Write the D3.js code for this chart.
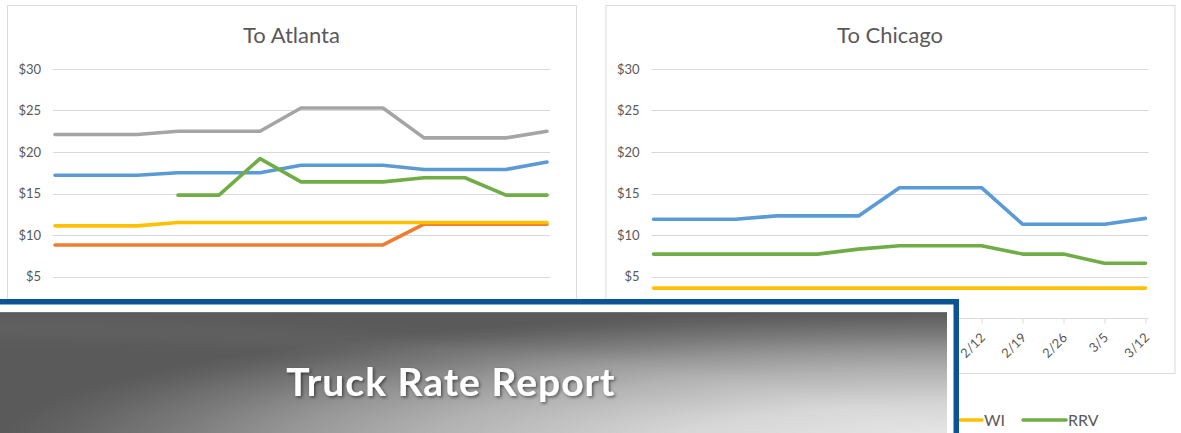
<!DOCTYPE html>
<html>
<head>
<meta charset="utf-8">
<script src="https://cdn.jsdelivr.net/npm/d3@7"></script>
<style>
  html, body { margin: 0; padding: 0; background: #fff; }
  svg { display: block; }
  text { font-family: Lato, "Open Sans", sans-serif; }
</style>
</head>
<body>
<svg id="chart" width="1181" height="433"></svg>
<script>
// ---------- data ----------
const dates = ["12/18","12/25","1/1","1/8","1/15","1/22","1/29","2/5","2/12","2/19","2/26","3/5","3/12"];
const yTicks = [0, 5, 10, 15, 20, 25, 30];
const yTickLabels = ["$0","$5","$10","$15","$20","$25","$30"];

const atlantaBlue   = [17.2,17.2,17.2,17.5,17.5,17.5,18.4,18.4,18.4,17.9,17.9,17.9,18.8];
const atlantaOrange = [8.8,8.8,8.8,8.8,8.8,8.8,8.8,8.8,8.8,11.3,11.3,11.3,11.3];
const atlantaGray   = [22.1,22.1,22.1,22.5,22.5,22.5,25.3,25.3,25.3,21.7,21.7,21.7,22.5];
const atlantaWI     = [11.1,11.1,11.1,11.5,11.5,11.5,11.5,11.5,11.5,11.5,11.5,11.5,11.5];
const atlantaRRV    = [null,null,null,14.8,14.8,19.2,16.4,16.4,16.4,16.9,16.9,14.8,14.8];

const chicagoBlue = [11.9,11.9,11.9,12.3,12.3,12.3,15.7,15.7,15.7,11.3,11.3,11.3,12.0];
const chicagoWI   = [3.6,3.6,3.6,3.6,3.6,3.6,3.6,3.6,3.6,3.6,3.6,3.6,3.6];
const chicagoRRV  = [7.7,7.7,7.7,7.7,7.7,8.3,8.7,8.7,8.7,7.7,7.7,6.6,6.6];

const chartTitles = ["To Atlanta", "To Chicago"];
const legendNames = ["WI", "RRV"];
const bannerTitle = "Truck Rate Report";

// ---------- styles ----------
const COLORS = { blue: "#5B9BD5", orange: "#ED7D31", gray: "#A5A5A5", yellow: "#FFC000", green: "#70AD47" };
const GRID = "#d9d9d9";
const TXT = "#595959";

const svg = d3.select("#chart");
svg.append("rect").attr("width", 1181).attr("height", 433).attr("fill", "#fff");

const panels = [
  { x0: 7, title: chartTitles[0], series: [
      [atlantaBlue, COLORS.blue], [atlantaOrange, COLORS.orange], [atlantaGray, COLORS.gray],
      [atlantaWI, COLORS.yellow], [atlantaRRV, COLORS.green] ] },
  { x0: 605.5, title: chartTitles[1], series: [
      [chicagoBlue, COLORS.blue], [chicagoWI, COLORS.yellow], [chicagoRRV, COLORS.green] ] }
];

const y = d3.scaleLinear().domain([0, 30]).range([318, 69]);

panels.forEach(p => {
  const g = svg.append("g");
  g.append("rect")
    .attr("x", p.x0 + 0.5).attr("y", 5.5).attr("width", 569).attr("height", 368)
    .attr("fill", "#fff").attr("stroke", GRID).attr("stroke-width", 1);

  const cx = p.x0 + 284.5;
  g.append("text").attr("x", cx).attr("y", 43).attr("text-anchor", "middle")
    .attr("font-size", 22).attr("fill", TXT).text(p.title);

  const x = d3.scalePoint().domain(dates).range([p.x0 + 48, p.x0 + 540]);
  const gx0 = p.x0 + 46, gx1 = p.x0 + 543;

  // gridlines
  g.selectAll("line.grid").data(yTicks.filter(t => t > 0)).join("line")
    .attr("x1", gx0).attr("x2", gx1)
    .attr("y1", d => Math.round(y(d)) + 0.5).attr("y2", d => Math.round(y(d)) + 0.5)
    .attr("stroke", GRID).attr("stroke-width", 1);

  // y axis labels
  const yAxis = d3.axisLeft(y).tickValues(yTicks).tickSize(0).tickPadding(0)
    .tickFormat((d, i) => yTickLabels[i]);
  const ya = g.append("g").attr("transform", `translate(${p.x0 + 34},0)`).call(yAxis);
  ya.select(".domain").remove();
  ya.selectAll("text").attr("font-size", 13).attr("fill", TXT)
    .attr("font-family", "Lato, 'Open Sans', sans-serif");

  // x axis
  const xAxis = d3.axisBottom(x).tickSize(5).tickPadding(0);
  const xa = g.append("g").attr("transform", `translate(0,${Math.round(y(0)) + 0.5})`).call(xAxis);
  xa.select(".domain").remove();
  xa.append("line").attr("x1", gx0).attr("x2", gx1).attr("stroke", GRID);
  xa.selectAll(".tick line").attr("stroke", GRID);
  xa.selectAll(".tick text")
    .attr("font-size", 13).attr("fill", TXT)
    .attr("font-family", "Lato, 'Open Sans', sans-serif")
    .attr("text-anchor", "end")
    .attr("dy", null)
    .attr("y", null)
    .attr("transform", "translate(4,20) rotate(-45)");

  // lines
  const line = d3.line()
    .defined(d => d.v !== null)
    .x(d => x(d.date)).y(d => y(d.v));
  p.series.forEach(([vals, col]) => {
    g.append("path")
      .datum(vals.map((v, i) => ({ date: dates[i], v })))
      .attr("d", line)
      .attr("fill", "none").attr("stroke", col)
      .attr("stroke-width", 3.6)
      .attr("stroke-linejoin", "round").attr("stroke-linecap", "round");
  });
});

// legend (visible part)
const legendColors = [COLORS.yellow, COLORS.green];
const lg = svg.append("g");
let lx = 939;
legendNames.forEach((name, i) => {
  lg.append("line").attr("x1", lx).attr("x2", lx + 43).attr("y1", 420).attr("y2", 420)
    .attr("stroke", legendColors[i]).attr("stroke-width", 3.6).attr("stroke-linecap", "round");
  const t = lg.append("text").attr("x", lx + 45).attr("y", 426)
    .attr("font-size", 16).attr("fill", TXT).text(name);
  lx = lx + 45 + t.node().getComputedTextLength() + 18;
});

// ---------- banner overlay ----------
const defs = svg.append("defs");
const rg = defs.append("radialGradient").attr("id", "bannerGrad")
  .attr("cx", 0.5).attr("cy", 0.5).attr("r", 0.5);
[[0, "#e9e9e9"], [0.3, "#d6d6d6"], [0.55, "#b2b2b2"], [0.7, "#969696"],
 [0.82, "#7a7a7a"], [0.94, "#626262"], [1, "#5a5a5a"]]
  .forEach(([o, c]) => rg.append("stop").attr("offset", o).attr("stop-color", c));

const clip = defs.append("clipPath").attr("id", "bannerClip");
clip.append("rect").attr("x", -10).attr("y", 312).attr("width", 957).attr("height", 140);

const sh = defs.append("filter").attr("id", "txtShadow")
  .attr("x", "-10%").attr("y", "-30%").attr("width", "120%").attr("height", "160%");
sh.append("feDropShadow").attr("dx", 1.5).attr("dy", 1.5).attr("stdDeviation", 1.5)
  .attr("flood-color", "#000").attr("flood-opacity", 0.5);

const blur = defs.append("filter").attr("id", "streakBlur")
  .attr("x", "-10%").attr("y", "-50%").attr("width", "120%").attr("height", "200%");
blur.append("feGaussianBlur").attr("stdDeviation", 8);

const banner = svg.append("g");
banner.append("rect").attr("x", -10).attr("y", 299).attr("width", 969).attr("height", 160)
  .attr("fill", "#0b5394");
banner.append("rect").attr("x", -10).attr("y", 304.5).attr("width", 963.5).attr("height", 160)
  .attr("fill", "#ffffff");
const bg = banner.append("g").attr("clip-path", "url(#bannerClip)");
bg.append("rect").attr("x", -10).attr("y", 312).attr("width", 957).attr("height", 140).attr("fill", "#5a5a5a");
bg.append("rect").attr("x", -5).attr("y", 310).attr("width", 1920).attr("height", 270)
  .attr("fill", "url(#bannerGrad)");
bg.append("path").attr("d", "M-20,328 C200,328 400,342 600,366 S850,415 960,436")
  .attr("fill", "none").attr("stroke", "#ffffff").attr("stroke-opacity", 0.05)
  .attr("stroke-width", 14).attr("filter", "url(#streakBlur)");
bg.append("line").attr("x1", -10).attr("x2", 947).attr("y1", 312.5).attr("y2", 312.5)
  .attr("stroke", "#8a8a8a").attr("stroke-opacity", 0.5);

banner.append("text").attr("x", 451).attr("y", 396).attr("text-anchor", "middle")
  .attr("font-size", 39).attr("font-weight", "bold").attr("letter-spacing", 1)
  .attr("fill", "#ffffff")
  .attr("filter", "url(#txtShadow)").text(bannerTitle);
</script>
</body>
</html>
